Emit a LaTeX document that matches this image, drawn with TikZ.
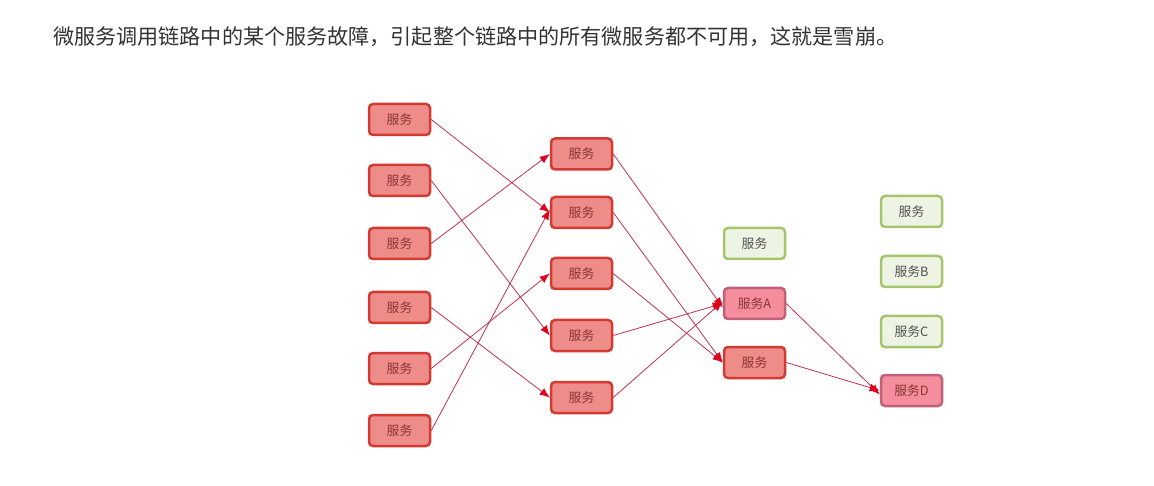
\documentclass[tikz,border=0pt]{standalone}
\usepackage{fontspec}
\newfontfamily\cjk{Noto Sans CJK SC}
\usetikzlibrary{arrows.meta}
\definecolor{redfill}{HTML}{EE8C8A}
\definecolor{redline}{HTML}{D23A32}
\definecolor{redtext}{HTML}{8A3434}
\definecolor{pinkfill}{HTML}{F58E9C}
\definecolor{pinkline}{HTML}{C0607A}
\definecolor{greenfill}{HTML}{EEF4E4}
\definecolor{greenline}{HTML}{A6C46C}
\definecolor{greentext}{HTML}{505050}
\definecolor{edgecol}{HTML}{C23050}
\definecolor{tipcol}{HTML}{E0001A}
\definecolor{headcol}{HTML}{333333}
\tikzset{
  svc/.style={rounded corners=4pt, minimum width=61pt, minimum height=31pt,
    line width=2.5pt, inner sep=0pt, font=\cjk\fontsize{12.8}{14}\selectfont},
  redsvc/.style={svc, draw=redline, fill=redfill, text=redtext},
  pinksvc/.style={svc, draw=pinkline, fill=pinkfill, text=redtext},
  greensvc/.style={svc, draw=greenline, fill=greenfill, text=greentext},
  link/.style={draw=edgecol, line width=0.8pt,
    -{Latex[length=10pt,width=8pt,color=tipcol,fill=tipcol]}},
}
\begin{document}
\begin{tikzpicture}[x=1pt,y=-1pt]
\useasboundingbox[fill=white] (0,0) rectangle (1154,486);
\node[anchor=west, text=headcol, inner sep=0pt, font=\cjk\fontsize{21.1}{24}\selectfont] (head) at (53,37)
  {微服务调用链路中的某个服务故障，引起整个链路中的所有微服务都不可用，这就是雪崩。};
% column 1
\node[redsvc] (b1) at (399.5,119.5) {服务};
\node[redsvc] (b2) at (399.5,180.5) {服务};
\node[redsvc] (b3) at (399.5,243.5) {服务};
\node[redsvc] (b4) at (399.5,307.5) {服务};
\node[redsvc] (b5) at (399.5,368.5) {服务};
\node[redsvc] (b6) at (399.5,430.5) {服务};
% column 2
\node[redsvc] (c1) at (581.5,154) {服务};
\node[redsvc] (c2) at (581.5,212.5) {服务};
\node[redsvc] (c3) at (581.5,273.5) {服务};
\node[redsvc] (c4) at (581.5,335.5) {服务};
\node[redsvc] (c5) at (581.5,397.5) {服务};
% column 3
\node[greensvc] (g1) at (754.5,243.5) {服务};
\node[pinksvc] (sa) at (754.5,303.5) {服务A};
\node[redsvc] (c6) at (754.5,362.5) {服务};
% column 4
\node[greensvc] (g2) at (911.5,211.5) {服务};
\node[greensvc] (sb) at (911.5,271.5) {服务B};
\node[greensvc] (sc) at (911.5,331.5) {服务C};
\node[pinksvc] (sd) at (911.5,390.5) {服务D};
% edges
\draw[link] (b1.east) -- (c2.west);
\draw[link] (b2.east) -- (c4.west);
\draw[link] (b3.east) -- (c1.west);
\draw[link] (b4.east) -- (c5.west);
\draw[link] (b5.east) -- (c3.west);
\draw[link] (b6.east) -- ([yshift=3pt]c2.west);
\draw[link] (c1.east) -- ([yshift=-4pt]sa.west);
\draw[link] (c2.east) -- (c6.west);
\draw[link] (c3.east) -- (c6.west);
\draw[link] (c4.east) -- (sa.west);
\draw[link] (c5.east) -- ([yshift=2pt]sa.west);
\draw[link] (sa.east) -- ([yshift=-4pt]sd.west);
\draw[link] (c6.east) -- (sd.west);
\end{tikzpicture}
\end{document}
